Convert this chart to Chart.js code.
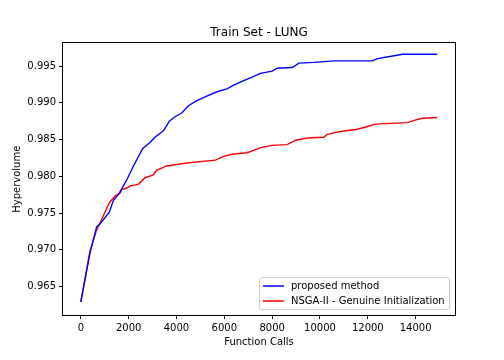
<!DOCTYPE html>
<html>
<head>
<meta charset="utf-8">
<script src="https://cdn.jsdelivr.net/npm/chart.js@4/dist/chart.umd.min.js"></script>
<style>
  html, body { margin: 0; padding: 0; background: #fff; }
  #wrap { width: 504px; height: 360px; }
</style>
</head>
<body>
<div id="wrap"><canvas id="c" width="504" height="360"></canvas></div>
<script>
const chartTitle = "Train Set - LUNG";
const xTitle = "Function Calls";
const yTitle = "Hypervolume";
const seriesNames = ["proposed method", "NSGA-II - Genuine Initialization"];
const seriesColors = ["#0000ff", "#ff0000"];

const xTicks = [0, 2000, 4000, 6000, 8000, 10000, 12000, 14000];
const yTicks = [0.965, 0.970, 0.975, 0.980, 0.985, 0.990, 0.995];

const proposedCalls = [0, 380, 660, 800, 1190, 1360, 1570, 1780, 1950, 2200, 2590, 2890, 3100, 3450, 3570, 3700, 3940, 4220, 4500, 4850, 5270, 5690, 6110, 6390, 6810, 7090, 7510, 8000, 8210, 8840, 9120, 9750, 10580, 12190, 12400, 13100, 13450, 14900];
const proposedHV = [0.9629, 0.9695, 0.9731, 0.9735, 0.9751, 0.9767, 0.9775, 0.9787, 0.9797, 0.9814, 0.9838, 0.9846, 0.9853, 0.9862, 0.9868, 0.9875, 0.9881, 0.9886, 0.9896, 0.9903, 0.9909, 0.9915, 0.9919, 0.9924, 0.9930, 0.9934, 0.9940, 0.9943, 0.9947, 0.9948, 0.9954, 0.9955, 0.9957, 0.9957, 0.9960, 0.9964, 0.9966, 0.9966];

const nsgaCalls = [0, 380, 660, 940, 1190, 1430, 1640, 1710, 1920, 2060, 2400, 2690, 3030, 3170, 3590, 4430, 5620, 5970, 6320, 6950, 7370, 7510, 8000, 8630, 8980, 9470, 10160, 10300, 10860, 11560, 11910, 12330, 12960, 13660, 13940, 14290, 14900];
const nsgaHV = [0.9629, 0.9698, 0.9727, 0.9746, 0.9764, 0.9773, 0.9777, 0.9782, 0.9784, 0.9787, 0.9789, 0.9798, 0.9802, 0.9808, 0.9814, 0.9818, 0.9822, 0.9827, 0.9830, 0.9832, 0.9837, 0.9839, 0.9842, 0.9843, 0.9849, 0.9852, 0.9853, 0.9857, 0.9861, 0.9864, 0.9867, 0.9871, 0.9872, 0.9873, 0.9876, 0.9879, 0.9880];

const toPoints = (xs, ys) => xs.map((x, i) => ({ x: x, y: ys[i] }));

const FONT = "'DejaVu Sans', sans-serif";
const TXT = "#000";

const framePlugin = {
  id: 'frame',
  afterDraw(chart) {
    const { ctx, chartArea: a } = chart;
    ctx.save();
    ctx.strokeStyle = "#000";
    ctx.lineWidth = 1;
    ctx.strokeRect(Math.round(a.left) - 0.5, Math.round(a.top) - 0.5,
                   Math.round(a.right - a.left) + 1, Math.round(a.bottom - a.top) + 1);
    // legend
    const bx = 259.5, by = 277.5, bw = 190, bh = 32, r = 2.5;
    ctx.fillStyle = "rgba(255,255,255,0.8)";
    ctx.strokeStyle = "#cccccc";
    ctx.beginPath();
    ctx.moveTo(bx + r, by);
    ctx.lineTo(bx + bw - r, by);
    ctx.arcTo(bx + bw, by, bx + bw, by + r, r);
    ctx.lineTo(bx + bw, by + bh - r);
    ctx.arcTo(bx + bw, by + bh, bx + bw - r, by + bh, r);
    ctx.lineTo(bx + r, by + bh);
    ctx.arcTo(bx, by + bh, bx, by + bh - r, r);
    ctx.lineTo(bx, by + r);
    ctx.arcTo(bx, by, bx + r, by, r);
    ctx.closePath();
    ctx.fill();
    ctx.stroke();
    ctx.font = "10px " + FONT;
    ctx.textBaseline = "middle";
    ctx.textAlign = "left";
    const rows = [286, 301];
    seriesNames.forEach((name, i) => {
      ctx.strokeStyle = seriesColors[i];
      ctx.lineWidth = 1.5;
      ctx.beginPath();
      ctx.moveTo(263, rows[i]);
      ctx.lineTo(284, rows[i]);
      ctx.stroke();
      ctx.fillStyle = TXT;
      ctx.fillText(name, 291, rows[i]);
    });
    ctx.restore();
  }
};

new Chart(document.getElementById('c'), {
  type: 'line',
  data: {
    datasets: [
      { label: seriesNames[0], data: toPoints(proposedCalls, proposedHV), borderColor: seriesColors[0], borderWidth: 1.4, pointRadius: 0, tension: 0, fill: false },
      { label: seriesNames[1], data: toPoints(nsgaCalls, nsgaHV), borderColor: seriesColors[1], borderWidth: 1.4, pointRadius: 0, tension: 0, fill: false }
    ]
  },
  options: {
    responsive: false,
    animation: false,
    devicePixelRatio: 1,
    layout: { padding: { left: 0, right: 49, top: 0, bottom: 0 } },
    plugins: {
      legend: { display: false },
      tooltip: { enabled: false },
      title: {
        display: true,
        fullSize: false,
        text: chartTitle,
        color: TXT,
        font: { family: FONT, size: 12, weight: 'normal' },
        padding: { top: 26, bottom: 3 }
      }
    },
    scales: {
      x: {
        type: 'linear',
        min: -745,
        max: 15645,
        afterBuildTicks: s => { s.ticks = xTicks.map(v => ({ value: v })); },
        afterFit: s => { s.height = 45; },
        ticks: { color: TXT, font: { family: FONT, size: 10 }, padding: 3, maxRotation: 0, autoSkip: false, callback: v => String(v) },
        grid: { display: true, drawOnChartArea: false, drawTicks: true, tickLength: 4, color: "#000" },
        border: { display: false },
        title: { display: true, text: xTitle, color: TXT, font: { family: FONT, size: 10 }, padding: { top: 0, bottom: 12 } }
      },
      y: {
        type: 'linear',
        min: 0.96112,
        max: 0.99808,
        afterBuildTicks: s => { s.ticks = yTicks.map(v => ({ value: v })); },
        afterFit: s => { s.width = 63; },
        ticks: { color: TXT, font: { family: FONT, size: 10 }, padding: 3, autoSkip: false, callback: v => Number(v).toFixed(3) },
        grid: { display: true, drawOnChartArea: false, drawTicks: true, tickLength: 4, color: "#000" },
        border: { display: false },
        title: { display: true, text: yTitle, color: TXT, font: { family: FONT, size: 10 }, padding: { top: 11, bottom: 0 } }
      }
    }
  },
  plugins: [framePlugin]
});
</script>
</body>
</html>
